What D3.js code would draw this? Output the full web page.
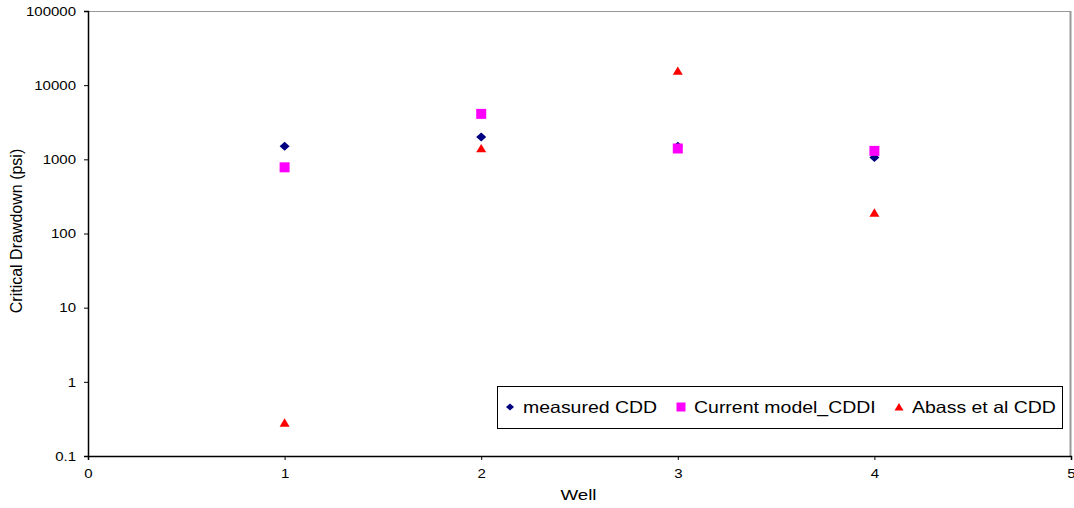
<!DOCTYPE html>
<html>
<head>
<meta charset="utf-8">
<script src="https://cdn.jsdelivr.net/npm/d3@7"></script>
<style>
  body { margin: 0; background: #fff; }
  text { font-family: "Liberation Sans", Arial, sans-serif; fill: #000; }
</style>
</head>
<body>
<svg id="chart" width="1074" height="508"></svg>
<script>
// data
const wells = [1, 2, 3, 4];
const measuredCDD = [1500, 2000, 1500, 1060];
const currentModelCDDI = [780, 4100, 1400, 1300];
const abassCDD = [0.28, 1400, 15500, 190];
const seriesNames = ["measured CDD", "Current model_CDDI", "Abass et al CDD"];
const yTicks = [0.1, 1, 10, 100, 1000, 10000, 100000];
const xTicks = [0, 1, 2, 3, 4, 5];

const margin = { top: 11, right: 3, bottom: 52, left: 88 };
const width = 1074 - margin.left - margin.right;
const height = 508 - margin.top - margin.bottom;
const stretch = 1.25; // reference text is a bit wide

const svg = d3.select("#chart")
  .append("g")
  .attr("transform", `translate(${margin.left}, ${margin.top})`);

const x = d3.scaleLinear().domain([0, 5]).range([0, width]);
const y = d3.scaleLog().domain([0.1, 100000]).range([height, 0]);

// plot frame (grey top and right)
svg.append("line")
  .attr("x1", 0).attr("x2", width).attr("y1", 0.5).attr("y2", 0.5)
  .style("stroke", "#999").style("stroke-width", 1);
svg.append("line")
  .attr("x1", width - 0.5).attr("x2", width - 0.5).attr("y1", 0).attr("y2", height)
  .style("stroke", "#999").style("stroke-width", 2);

// axes
const yAxis = svg.append("g")
  .attr("class", "y-axis")
  .call(d3.axisLeft(y).tickValues(yTicks).tickFormat(d3.format("~g")).tickSize(4).tickPadding(8));

const xAxis = svg.append("g")
  .attr("class", "x-axis")
  .attr("transform", `translate(0, ${height})`)
  .call(d3.axisBottom(x).tickValues(xTicks).tickFormat(d3.format("d")).tickSize(4).tickPadding(9));

[yAxis, xAxis].forEach((ax) => {
  ax.select(".domain").style("stroke", "#000").style("stroke-width", 1.5);
  ax.selectAll(".tick line").style("stroke", "#000");
  ax.selectAll(".tick text")
    .style("font-size", "12px")
    .style("font-family", "Liberation Sans, Arial, sans-serif")
    .attr("fill", "#000")
    .each(function () {
      const w = this.getComputedTextLength();
      d3.select(this).attr("textLength", w * stretch).attr("lengthAdjust", "spacingAndGlyphs");
    });
});
yAxis.selectAll(".tick text").attr("dy", "0.35em");

// axis titles
const xTitle = svg.append("text")
  .attr("x", width / 2 - 1)
  .attr("y", height + 44)
  .attr("text-anchor", "middle")
  .style("font-size", "15px")
  .text("Well");
xTitle.attr("textLength", xTitle.node().getComputedTextLength() * stretch)
  .attr("lengthAdjust", "spacingAndGlyphs");

svg.append("text")
  .attr("transform", `translate(${-66}, ${220}) rotate(-90)`)
  .attr("text-anchor", "middle")
  .style("font-size", "16px")
  .text("Critical Drawdown (psi)");

// marker shapes
const diamond = (s) => `M0,${-s * 0.45}L${s / 2},0L0,${s * 0.45}L${-s / 2},0Z`;
const square = (s) => `M${-s / 2},${-s / 2}h${s}v${s}h${-s}Z`;
const triangle = (s) => `M0,${-s * 0.45}L${s / 2},${s * 0.38}L${-s / 2},${s * 0.38}Z`;

const series = [
  { name: seriesNames[0], values: measuredCDD, color: "#000080", shape: diamond },
  { name: seriesNames[1], values: currentModelCDDI, color: "#FF00FF", shape: square },
  { name: seriesNames[2], values: abassCDD, color: "#FF0000", shape: triangle },
];

series.forEach((s) => {
  svg.selectAll(null)
    .data(wells.map((w, i) => ({ well: w, value: s.values[i] })))
    .enter()
    .append("path")
    .attr("d", s.shape(10))
    .attr("transform", (d) => `translate(${x(d.well)}, ${y(d.value)})`)
    .style("fill", s.color);
});

// legend
const legend = d3.select("#chart").append("g").attr("transform", "translate(497, 386)");
legend.append("rect")
  .attr("x", 0.5).attr("y", 0.5)
  .attr("width", 565).attr("height", 42)
  .style("fill", "#fff").style("stroke", "#000").style("stroke-width", 1);

const legendX = [13, 184, 402];
series.forEach((s, i) => {
  const g = legend.append("g").attr("transform", `translate(${legendX[i]}, 21)`);
  g.append("path").attr("d", s.shape(i === 0 ? 8 : 9)).style("fill", s.color);
  const t = g.append("text")
    .attr("x", 13)
    .attr("y", 6)
    .style("font-size", "16.5px")
    .text(s.name);
  t.attr("textLength", t.node().getComputedTextLength() * 1.18)
    .attr("lengthAdjust", "spacingAndGlyphs");
});
</script>
</body>
</html>
